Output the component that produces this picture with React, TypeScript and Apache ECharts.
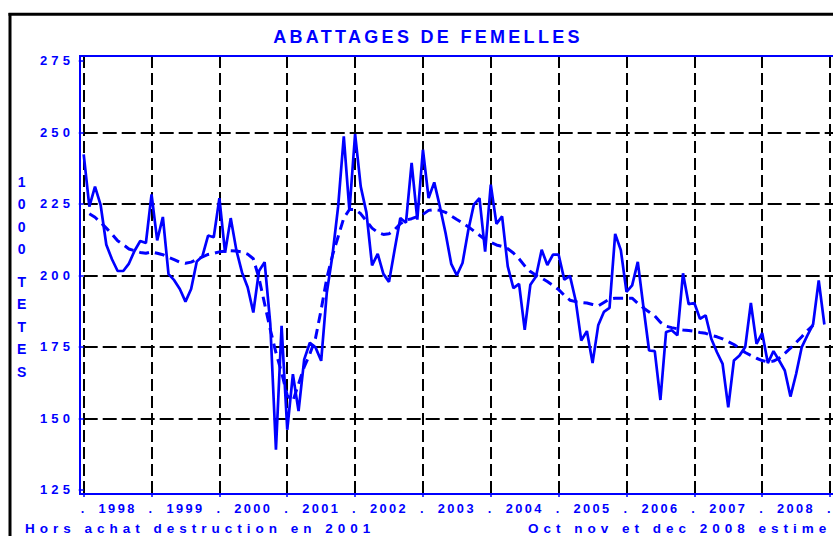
import React, { useEffect, useRef } from 'react';
import * as echarts from 'echarts';

// Calendar years shown on the x axis (monthly data, Jan 1998 – Dec 2008)
const years = ['1998', '1999', '2000', '2001', '2002', '2003', '2004', '2005', '2006', '2007', '2008'];

// Monthly slaughter of females, thousand head
const monthly = [
  242.3, 224.0, 231.0, 224.5, 210.7, 205.6, 201.5, 201.5, 204.1, 208.6, 212.0, 211.3,
  228.3, 212.2, 220.4, 200.4, 198.3, 195.2, 190.8, 195.2, 204.8, 206.7, 213.9, 213.3,
  227.0, 207.9, 220.0, 208.8, 201.0, 195.8, 187.0, 201.5, 204.6, 183.0, 139.0, 182.3,
  146.0, 165.4, 152.5, 170.6, 176.4, 174.8, 170.1, 194.0, 207.0, 224.0, 248.6, 222.5,
  249.4, 231.0, 222.0, 203.5, 207.5, 200.5, 197.7, 209.0, 220.0, 218.4, 239.3, 219.5,
  243.9, 227.0, 232.5, 224.0, 214.8, 204.0, 200.0, 204.3, 215.6, 224.7, 227.0, 208.3,
  231.7, 218.0, 220.6, 203.1, 195.5, 197.0, 180.9, 196.7, 199.6, 208.9, 203.6, 207.2,
  207.2, 198.5, 199.8, 191.3, 177.2, 180.5, 169.3, 182.5, 187.2, 188.6, 214.5, 208.8,
  194.2, 196.5, 204.7, 188.9, 173.7, 173.5, 156.4, 180.2, 180.8, 179.0, 200.7, 189.9,
  190.3, 184.8, 186.0, 177.8, 173.1, 169.0, 153.8, 170.2, 172.0, 174.9, 190.3, 176.0,
  179.8, 169.3, 173.5, 170.2, 166.7, 157.6, 165.5, 174.9, 179.0, 182.8, 198.2, 182.8,
];

// 12-month moving average (dashed), starts Feb 1998 (month index 1), ends Oct 2008
const trendStart = 1;
const trend = [
  221.5, 220.3, 218.5, 216.5, 214.4, 212.1, 210.7, 209.2, 208.6, 208.0, 207.7,
  208.2, 207.7, 207.2, 206.3, 205.5, 204.6, 204.2, 204.6, 205.5, 206.4, 207.3, 207.7,
  208.2, 208.4, 208.6, 208.5, 208.2, 207.4, 205.8, 199.0, 190.0, 181.0, 173.0, 166.0,
  158.0, 156.0, 162.0, 168.0, 172.5, 178.0, 188.0, 199.0, 207.0, 213.5, 220.0, 223.0,
  223.0, 221.5, 219.0, 216.5, 215.0, 214.3, 214.5, 216.0, 218.0, 219.3, 219.8, 220.5,
  221.3, 222.7, 223.0, 222.7, 222.0, 220.8, 219.5, 218.3, 217.0, 215.5, 214.0, 212.5,
  211.5, 210.6, 210.1, 209.3, 207.8, 205.8, 203.3, 201.3, 200.0, 199.0, 197.8, 196.5,
  195.0, 193.0, 191.3, 190.8, 190.5, 190.3, 189.8, 189.3, 190.5, 191.7, 192.0, 192.0,
  192.0, 192.0, 190.2, 188.6, 187.2, 185.8, 183.6, 182.2, 181.7, 181.3, 180.9, 180.7,
  180.4, 180.0, 179.7, 179.0, 178.5, 177.8, 176.8, 175.8, 174.4, 173.0, 172.0, 171.0,
  170.2, 169.7, 170.0, 171.0, 172.7, 174.5, 176.5, 178.5, 180.7, 182.5,
];

const yTicks = { min: 125, max: 275, step: 25 };

const BLUE = '#0000ff';
const FONT = 'Liberation Sans';

const css = `
.abat-chart svg text[style*="18px"] { letter-spacing: 3.3px; }
.abat-chart svg text[style*="13px"] { letter-spacing: 4.1px; }
.abat-chart svg text[style*="12.8px"] { letter-spacing: 2.4px; }
.abat-chart svg text[style*="13.5px"] { letter-spacing: 5px; }
`;

export default function App() {
  const ref = useRef<HTMLDivElement>(null);

  useEffect(() => {
    if (!ref.current) return;
    const chart = echarts.init(ref.current, undefined, { renderer: 'svg' });
    const monthPx = 5.654;
    const xMax = 138;
    const gridLeft = 83.7;
    const gridWidth = xMax * monthPx;

    chart.setOption({
      animation: false,
      backgroundColor: '#ffffff',
      grid: [
        { left: gridLeft, top: 60.8, width: gridWidth, height: 429, containLabel: false },
        { left: gridLeft, top: 56, width: gridWidth, height: 438, containLabel: false },
      ],
      xAxis: [
        {
          type: 'value', gridIndex: 0, min: 0, max: xMax, interval: 6, offset: 4.2,
          axisLine: { show: false }, axisTick: { show: false }, splitLine: { show: false },
          axisLabel: {
            margin: 8, color: BLUE, fontWeight: 'bold', fontSize: 12.8, fontFamily: FONT,
            formatter: (v: number) => {
              if (v > 132) return '';
              if (v % 12 === 0) return '.';
              const k = (v - 6) / 12;
              return years[k] ?? '';
            },
          },
        },
        {
          type: 'value', gridIndex: 1, min: 0, max: xMax, interval: 12, position: 'bottom',
          axisLine: { show: false }, axisLabel: { show: false },
          axisTick: { show: true, length: 3, lineStyle: { color: BLUE, width: 1.5 } },
          splitLine: { show: true, lineStyle: { color: '#000', width: 2, type: [12, 5] } },
        },
      ],
      yAxis: [
        {
          type: 'value', gridIndex: 0, min: yTicks.min, max: yTicks.max, interval: yTicks.step, offset: 3.7,
          axisLine: { show: false },
          axisTick: { show: true, length: 5, lineStyle: { color: BLUE, width: 1.5 } },
          axisLabel: { margin: 6, color: BLUE, fontWeight: 'bold', fontSize: 13, fontFamily: FONT },
          splitLine: {
            show: true, showMinLine: false, showMaxLine: false,
            lineStyle: { color: '#000', width: 2, type: [14, 5] },
          },
        },
        { type: 'value', gridIndex: 1, min: 0, max: 1, show: false },
      ],
      series: [
        {
          type: 'line', xAxisIndex: 0, yAxisIndex: 0, z: 3,
          data: monthly.map((v, i) => [i, v]),
          showSymbol: false, symbol: 'none',
          lineStyle: { color: BLUE, width: 2.7 },
        },
        {
          type: 'line', xAxisIndex: 0, yAxisIndex: 0, z: 3,
          data: trend.map((v, i) => [i + trendStart, v]),
          showSymbol: false, symbol: 'none',
          lineStyle: { color: BLUE, width: 3, type: [10, 6] },
        },
      ],
      graphic: [
        { type: 'line', z: 100, shape: { x1: 10, y1: 13, x2: 10, y2: 540 }, style: { stroke: '#000', lineWidth: 3 } },
        { type: 'line', z: 100, shape: { x1: 8.5, y1: 14.3, x2: 845, y2: 14.3 }, style: { stroke: '#000', lineWidth: 3 } },
        { type: 'rect', z: 100, shape: { x: 80, y: 56, width: 810, height: 438 }, style: { fill: 'none', stroke: BLUE, lineWidth: 2 } },
        {
          type: 'text', z: 100, x: 428, y: 36.5,
          style: { text: 'ABATTAGES DE FEMELLES', fill: BLUE, fontSize: 18, fontWeight: 'bold', fontFamily: FONT, align: 'center', verticalAlign: 'middle' },
        },
        {
          type: 'text', z: 100, x: 21.7, y: 171.1,
          style: { text: '1\n0\n0\n0', fill: BLUE, fontSize: 14, fontWeight: 'bold', fontFamily: FONT, align: 'center', verticalAlign: 'top', lineHeight: 22.2 },
        },
        {
          type: 'text', z: 100, x: 21.7, y: 270.4,
          style: { text: 'T\nE\nT\nE\nS', fill: BLUE, fontSize: 14, fontWeight: 'bold', fontFamily: FONT, align: 'center', verticalAlign: 'top', lineHeight: 22.6 },
        },
        {
          type: 'text', z: 100, x: 25, y: 528.5,
          style: { text: 'Hors achat destruction en 2001', fill: BLUE, fontSize: 13.5, fontWeight: 'bold', fontFamily: FONT, align: 'left', verticalAlign: 'middle' },
        },
        {
          type: 'text', z: 100, x: 528, y: 528.5,
          style: { text: 'Oct nov et dec 2008 estime', fill: BLUE, fontSize: 13.5, fontWeight: 'bold', fontFamily: FONT, align: 'left', verticalAlign: 'middle' },
        },
      ],
    });
    return () => chart.dispose();
  }, []);

  return (
    <>
      <style>{css}</style>
      <div style={{ position: 'fixed', left: 0, top: 0, width: 833, height: 536, overflow: 'hidden', background: '#fff' }}>
        <div ref={ref} className="abat-chart" style={{ width: 900, height: 536 }} />
      </div>
    </>
  );
}
